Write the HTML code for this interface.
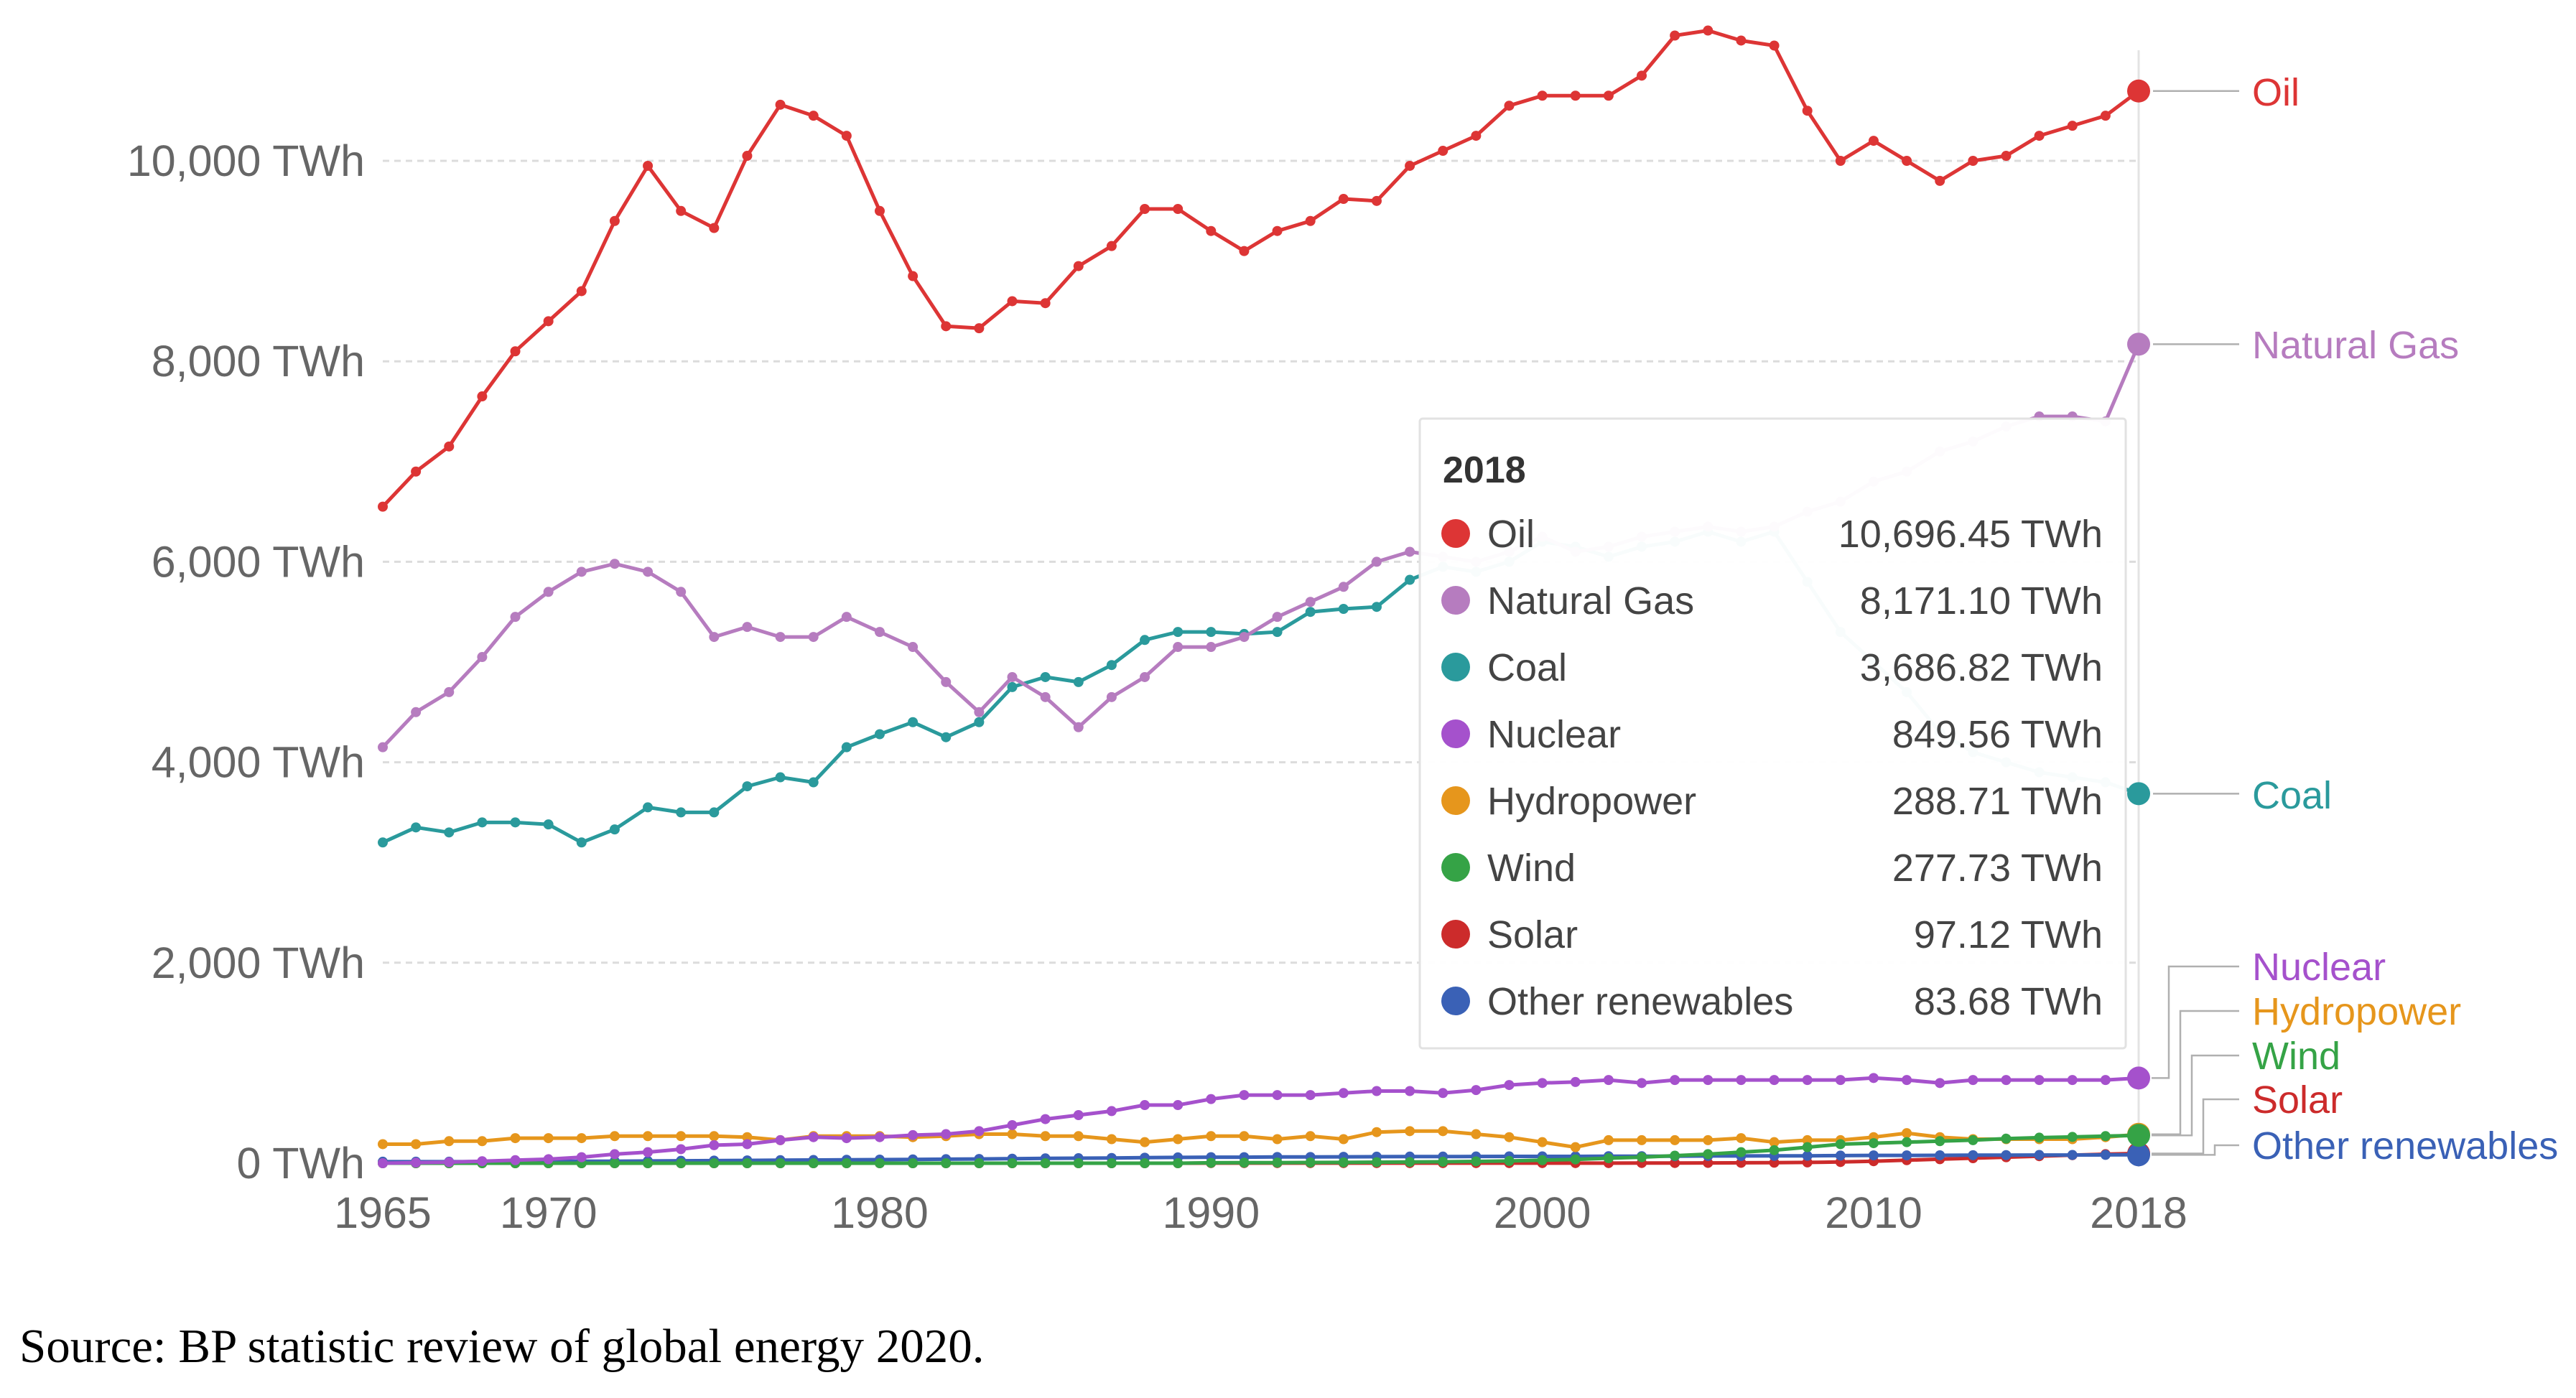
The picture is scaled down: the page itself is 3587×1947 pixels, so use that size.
<!DOCTYPE html>
<html><head><meta charset="utf-8">
<style>
html,body{margin:0;padding:0;background:#fff;}
svg{display:block;}
</style></head>
<body>
<svg id="chart" width="3587" height="1947" viewBox="0 0 3587 1947" xmlns="http://www.w3.org/2000/svg" font-family="'Liberation Sans', sans-serif">
  <g id="grid"></g>
  <g id="yaxis"></g>
  <g id="xaxis"></g>
  <line x1="2978" y1="70" x2="2978" y2="1625" stroke="#e3e3e3" stroke-width="3"/>
  <g id="series"></g>
  <g id="labels"></g>
  <g id="tooltip"></g>
  <text x="27" y="1897" font-family="'Liberation Serif', serif" font-size="67" fill="#000">Source: BP statistic review of global energy 2020.</text>
</svg>
<script>
const years = [];
for (let y = 1965; y <= 2018; y++) years.push(y);
const yTicks = [0, 2000, 4000, 6000, 8000, 10000];
const yTickLabels = ["0 TWh","2,000 TWh","4,000 TWh","6,000 TWh","8,000 TWh","10,000 TWh"];
const xTicks = [1965, 1970, 1980, 1990, 2000, 2010, 2018];
const seriesNames = ["Oil","Natural Gas","Coal","Nuclear","Hydropower","Wind","Solar","Other renewables"];
const oil = [6550,6900,7150,7650,8100, 8400,8700,9400,9950,9500,9330,10050,10560,10450,10250, 9500,8850,8350,8330,8600,8580,8950,9150,9520,9520, 9300,9100,9300,9400,9620,9600,9950,10100,10250,10550, 10650,10650,10650,10850,11250,11300,11200,11150,10500,10000, 10200,10000,9800,10000,10050,10250,10350,10450,10696.45];
const gas = [4150,4500,4700,5050,5450, 5700,5900,5980,5900,5700,5250,5350,5250,5250,5450, 5300,5150,4800,4500,4850,4650,4350,4650,4850,5150, 5150,5250,5450,5600,5750,6000,6100,6050,6000,6100, 6250,6100,6150,6250,6300,6350,6300,6350,6500,6600, 6800,6900,7100,7200,7350,7450,7450,7400,8171.10];
const coal = [3200,3350,3300,3400,3400, 3380,3200,3330,3550,3500,3500,3760,3850,3800,4150, 4280,4400,4250,4400,4750,4850,4800,4970,5220,5300, 5300,5280,5300,5500,5530,5550,5820,5950,5900,6000, 6200,6150,6050,6150,6200,6300,6200,6300,5800,5300, 5000,4700,4300,4100,4000,3900,3850,3800,3686.82];
const nuclear = [0,5,10,20,30, 40,60,90,110,140,180,190,230,260,250, 260,280,290,320,380,440,480,520,580,580, 640,680,680,680,700,720,720,700,730,780, 800,810,830,800,830,830,830,830,830,830, 850,830,800,830,830,830,830,830,849.56];
const hydro = [190,190,220,220,250, 250,250,270,270,270,270,260,230,270,270, 270,260,270,290,290,270,270,240,210,240, 270,270,240,270,240,310,320,320,290,260, 210,160,230,230,230,230,250,210,230,230, 260,300,260,240,240,240,240,260,288.71];
const wind = [0,0,0,0,0, 0,0,0,0,0,0,0,0,0,0, 0,0,0,0,0,0,0,0,0,0, 4,5,6,7,8,10,12,14,18,22, 30,38,50,60,75,90,110,130,160,190, 200,210,220,230,245,255,262,270,277.73];
const solar = [0,0,0,0,0, 0,0,0,0,0,0,0,0,0,0, 0,0,0,0,0,0,0,0,0,0, 1,1,1,1,1,1,1,1,1,1, 1,1,1,2,2,3,4,5,8,12, 20,30,40,50,60,70,80,90,97.12];
const other = [15,15,15,16,17, 18,19,20,22,24,26,28,30,32,34, 36,38,40,42,45,48,50,52,55,58, 60,60,62,62,64,65,66,66,67,68, 68,68,70,70,70,72,72,73,74,76, 78,78,79,80,81,82,82,83,83.68];
const tooltipValues = ["10,696.45 TWh","8,171.10 TWh","3,686.82 TWh","849.56 TWh","288.71 TWh","277.73 TWh","97.12 TWh","83.68 TWh"];

const NS = "http://www.w3.org/2000/svg";
const X0 = 533, X1 = 2978, Y0 = 1620, Y1 = 224;
function xScale(yr){ return X0 + (yr - 1965) * (X1 - X0) / (2018 - 1965); }
function yScale(v){ return Y0 - v * (Y0 - Y1) / 10000; }
function mk(tag, attrs, parent){ const e = document.createElementNS(NS, tag); for (const k in attrs) e.setAttribute(k, attrs[k]); parent.appendChild(e); return e; }

const grid = document.getElementById('grid'), yax = document.getElementById('yaxis'), xax = document.getElementById('xaxis');
yTicks.forEach((t, i) => {
  if (t > 0) {
    const g = mk('line', {x1: X0, x2: X1, y1: yScale(t), y2: yScale(t), stroke: '#dcdcdc', 'stroke-width': 3, 'stroke-dasharray': '9,7'}, grid);
    
    
  }
  const lb = mk('text', {x: 508, y: yScale(t) + 21, 'text-anchor': 'end', 'font-size': 61, fill: '#666'}, yax);
  lb.textContent = yTickLabels[i];
  
  
});
xTicks.forEach(t => {
  const lb = mk('text', {x: xScale(t), y: 1710, 'text-anchor': 'middle', 'font-size': 61, fill: '#666'}, xax);
  lb.textContent = t;
  
  
});

const seriesData = [solar, other, hydro, wind, nuclear, coal, gas, oil];
const seriesIdx = [6, 7, 4, 5, 3, 2, 1, 0];
const colors = ["#dd3535","#b67cbf","#2a9a9c","#a551cc","#e6961c","#35a346","#cc2b2b","#3a61b6"];
const sg = document.getElementById('series');
seriesData.forEach((arr, k) => {
  const i = seriesIdx[k];
  const g = mk('g', {}, sg);
  
  
  const pts = arr.map((v, j) => xScale(years[j]).toFixed(1) + ',' + yScale(v).toFixed(1)).join(' ');
  const pl = mk('polyline', {points: pts, fill: 'none', stroke: colors[i], 'stroke-width': 5, 'stroke-linejoin': 'round'}, g);
  
  
  arr.forEach((v, j) => {
    const last = j === arr.length - 1;
    const c = mk('circle', {cx: xScale(years[j]), cy: yScale(v), r: last ? 16 : 7, fill: colors[i]}, g);
    
    
  });
});

const lg = document.getElementById('labels');
const labelY = [128, 480, 1107, 1346, 1408, 1470, 1531, 1595];
const elbowX = [null, null, null, 3020, 3036, 3052, 3068, 3084];
const endVals = [oil, gas, coal, nuclear, hydro, wind, solar, other].map(a => a[a.length - 1]);
seriesNames.forEach((n, i) => {
  const ey = yScale(endVals[i]);
  let d;
  if (elbowX[i] === null) d = `M ${X1 + 20} ${ey} H 3118`;
  else d = `M ${X1 + 18} ${ey} H ${elbowX[i]} V ${labelY[i]} H 3118`;
  const p = mk('path', {d: d, fill: 'none', stroke: '#b0b0b0', 'stroke-width': 2.5}, lg);
  
  
  const t = mk('text', {x: 3136, y: labelY[i] + 19, 'font-size': 54, fill: colors[i]}, lg);
  t.textContent = n;
  
  
});

const tg = document.getElementById('tooltip');
const bx = mk('rect', {x: 1977, y: 583, width: 983, height: 877, fill: 'rgba(255,255,255,0.97)', stroke: '#e2e2e2', 'stroke-width': 3, rx: 4}, tg);


const tt = mk('text', {x: 2009, y: 672, 'font-size': 52, 'font-weight': 'bold', fill: '#333'}, tg);
tt.textContent = '2018';


seriesNames.forEach((n, i) => {
  const cy = 743 + i * 93;
  const c = mk('circle', {cx: 2027, cy: cy, r: 20, fill: colors[i]}, tg);
  
  
  const t1 = mk('text', {x: 2071, y: cy + 19, 'font-size': 54, fill: '#444'}, tg);
  t1.textContent = n;
  
  
  const t2 = mk('text', {x: 2928, y: cy + 19, 'font-size': 54, fill: '#444', 'text-anchor': 'end'}, tg);
  t2.textContent = tooltipValues[i];
  
  
});
</script>
</body></html>
